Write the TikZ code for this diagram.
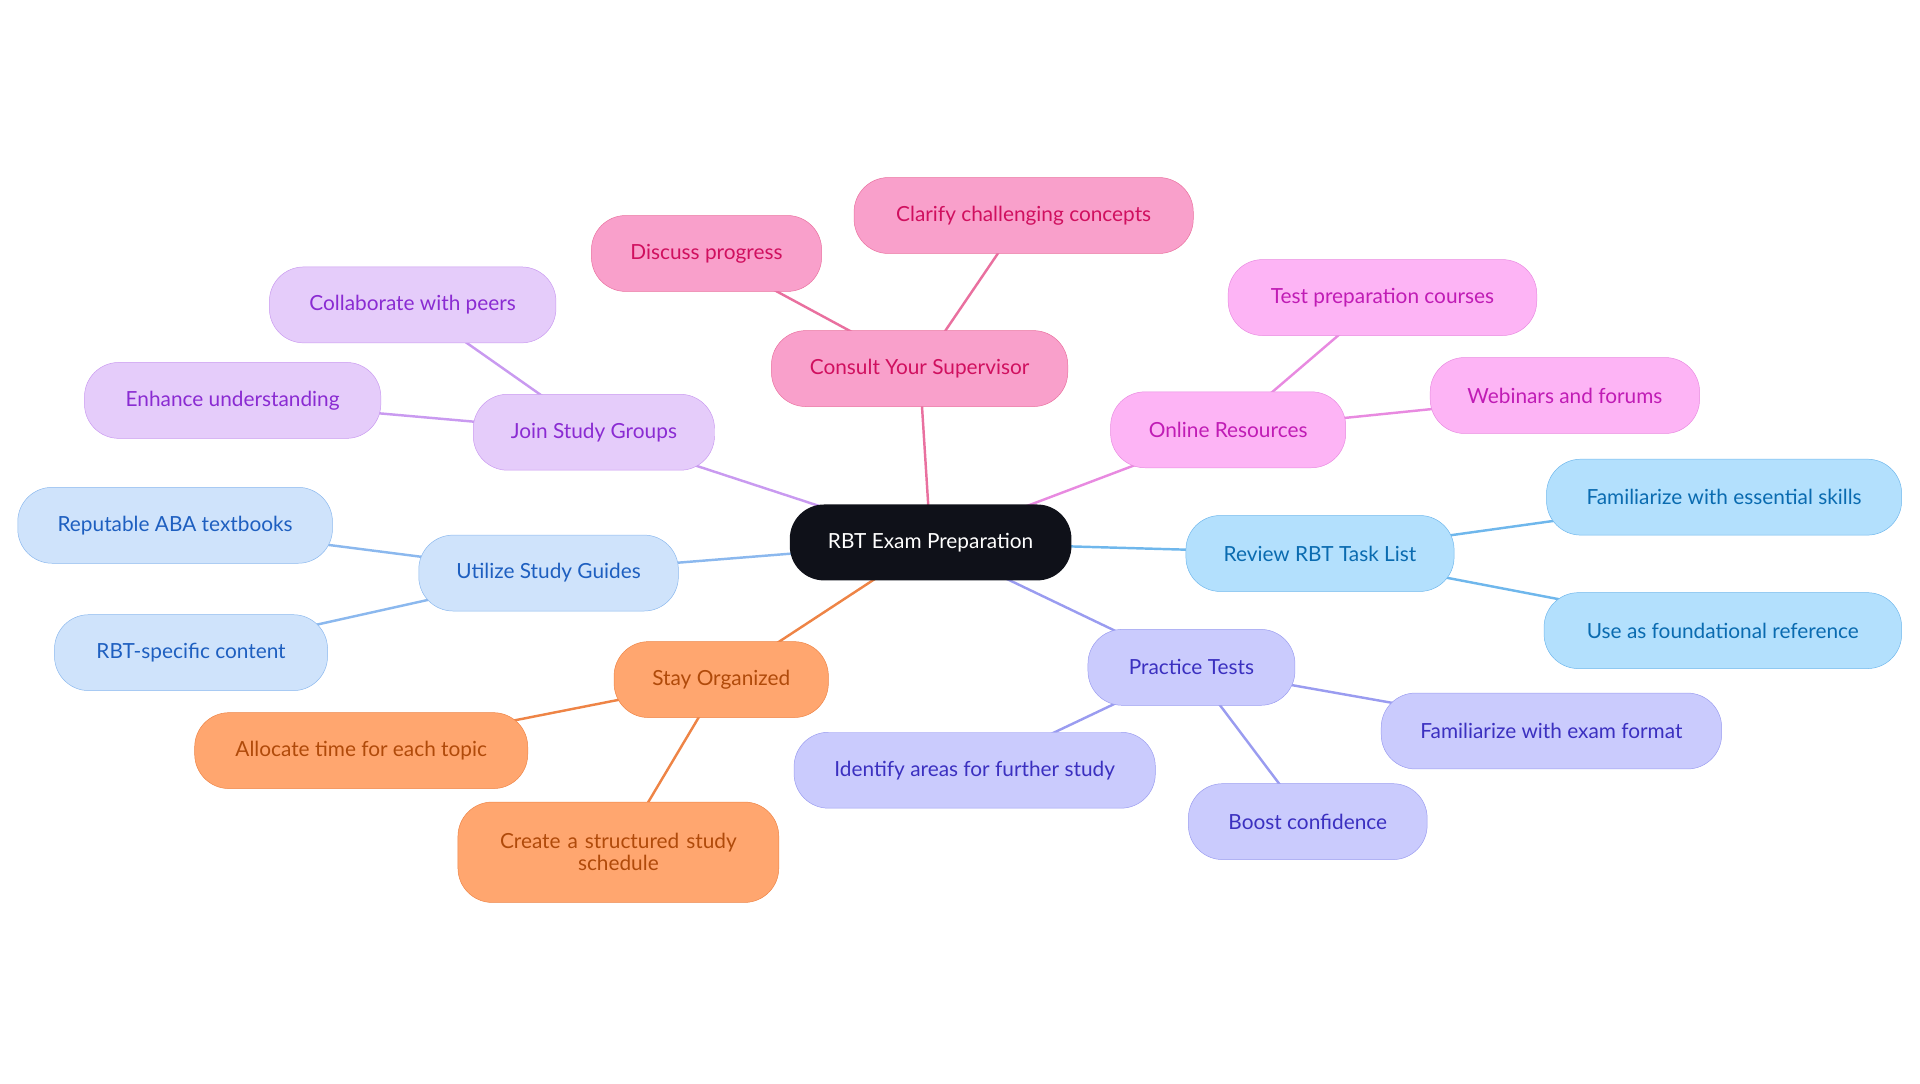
\documentclass[tikz,border=0pt]{standalone}
\usepackage{fontspec}
\setmainfont{Lato}
\definecolor{cdark}{HTML}{0F1119}
\definecolor{pkfill}{HTML}{F9A0CB}\definecolor{pkline}{HTML}{E9709F}\definecolor{pktext}{HTML}{D0105F}
\definecolor{mgfill}{HTML}{FDB4F5}\definecolor{mgline}{HTML}{E88AE0}\definecolor{mgtext}{HTML}{C01CB5}
\definecolor{pufill}{HTML}{E5CCFA}\definecolor{puline}{HTML}{C99AF0}\definecolor{putext}{HTML}{8A2BD2}
\definecolor{lbfill}{HTML}{CFE3FB}\definecolor{lbline}{HTML}{8BB8EE}\definecolor{lbtext}{HTML}{1E5FC0}
\definecolor{skfill}{HTML}{B3E0FD}\definecolor{skline}{HTML}{6FB7EC}\definecolor{sktext}{HTML}{0A6BB0}
\definecolor{igfill}{HTML}{CACBFD}\definecolor{igline}{HTML}{9A9CF0}\definecolor{igtext}{HTML}{3B30C0}
\definecolor{orfill}{HTML}{FFA66F}\definecolor{orline}{HTML}{EE8446}\definecolor{ortext}{HTML}{B04A0A}
\begin{document}
\begin{tikzpicture}
  [
    x=1pt, y=-1pt,
    pill/.style =
      {rounded corners=28pt, minimum height=62pt, inner sep=0pt, align=center,
       font=\fontsize{17}{20}\selectfont},
    pk/.style = {pill, fill=pkfill, draw=pkline, text=pktext},
    mg/.style = {pill, fill=mgfill, draw=mgline, text=mgtext},
    pu/.style = {pill, fill=pufill, draw=puline, text=putext},
    lb/.style = {pill, fill=lbfill, draw=lbline, text=lbtext},
    sk/.style = {pill, fill=skfill, draw=skline, text=sktext},
    ig/.style = {pill, fill=igfill, draw=igline, text=igtext},
    og/.style = {pill, fill=orfill, draw=orline, text=ortext},
    link/.style = {line width=2pt}
  ]
  \useasboundingbox (0,0) rectangle (1568,885);
  % links
  \coordinate (c) at (760,443);
  \draw [link, pkline] (c) -- (751,301) -- (836,176);
  \draw [link, pkline] (751,301) -- (577,207);
  \draw [link, mgline] (c) -- (1003,351) -- (1129,243);
  \draw [link, mgline] (1003,351) -- (1278,323);
  \draw [link, puline] (c) -- (485,353) -- (337,249);
  \draw [link, puline] (485,353) -- (190,327);
  \draw [link, lbline] (c) -- (448,468) -- (143,429);
  \draw [link, lbline] (448,468) -- (156,533);
  \draw [link, skline] (c) -- (1078,452) -- (1408,406);
  \draw [link, skline] (1078,452) -- (1407,515);
  \draw [link, igline] (c) -- (973,545) -- (1267,597);
  \draw [link, igline] (973,545) -- (796,629);
  \draw [link, igline] (973,545) -- (1068,671);
  \draw [link, orline] (c) -- (589,555) -- (295,613);
  \draw [link, orline] (589,555) -- (505,696);

  \node [pill, fill=cdark, text=white, minimum width=230pt] at (c) (root) {RBT Exam Preparation};

  \node [pk, minimum width=242pt] at (751,301) (sup) {Consult Your Supervisor};
  \node [pk, minimum width=277pt] at (836,176) (clar) {Clarify challenging concepts};
  \node [pk, minimum width=188pt] at (577,207) (disc) {Discuss progress};

  \node [mg, minimum width=192pt] at (1003,351) (online) {Online Resources};
  \node [mg, minimum width=252pt] at (1129,243) (tpc) {Test preparation courses};
  \node [mg, minimum width=220pt] at (1278,323) (web) {Webinars and forums};

  \node [pu, minimum width=197pt] at (485,353) (join) {Join Study Groups};
  \node [pu, minimum width=234pt] at (337,249) (coll) {Collaborate with peers};
  \node [pu, minimum width=242pt] at (190,327) (enh) {Enhance understanding};

  \node [lb, minimum width=212pt] at (448,468) (guide) {Utilize Study Guides};
  \node [lb, minimum width=257pt] at (143,429) (aba) {Reputable ABA textbooks};
  \node [lb, minimum width=223pt] at (156,533) (rbt) {RBT-specific content};

  \node [sk, minimum width=219pt] at (1078,452) (task) {Review RBT Task List};
  \node [sk, minimum width=290pt] at (1408,406) (ess) {Familiarize with essential skills};
  \node [sk, minimum width=292pt] at (1407,515) (found) {Use as foundational reference};

  \node [ig, minimum width=169pt] at (973,545) (prac) {Practice Tests};
  \node [ig, minimum width=278pt] at (1267,597) (fmt) {Familiarize with exam format};
  \node [ig, minimum width=295pt] at (796,629) (ident) {Identify areas for further study};
  \node [ig, minimum width=195pt] at (1068,671) (boost) {Boost confidence};

  \node [og, minimum width=175pt] at (589,555) (org) {Stay Organized};
  \node [og, minimum width=272pt] at (295,613) (alloc) {Allocate time for each topic};
  \node [og, minimum width=262pt, minimum height=82pt, text width=240pt] at (505,696) (sched) {Create a structured study\\[-2pt] schedule};
\end{tikzpicture}
\end{document}
